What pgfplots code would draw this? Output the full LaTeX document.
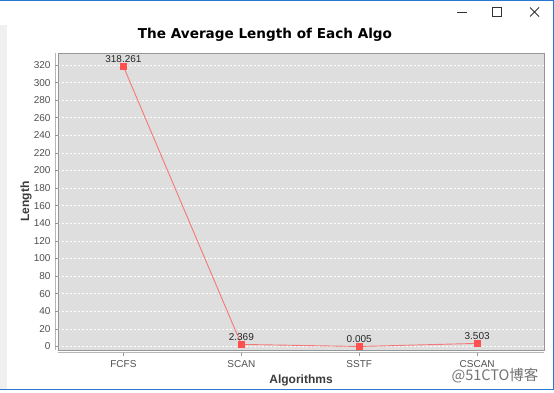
\documentclass[border=0pt]{standalone}
\usepackage{pgfplots}
\pgfplotsset{compat=1.18}
\usepackage{fontspec}
\setmainfont{Liberation Sans}
\newfontfamily\titlefont{DejaVu Sans}
\newfontfamily\cjk{Noto Sans CJK SC}
\definecolor{plotbg}{RGB}{222,222,222}
\definecolor{framegray}{RGB}{150,150,150}
\definecolor{tickgray}{RGB}{80,80,80}
\definecolor{labelgray}{RGB}{60,60,60}
\definecolor{linecol}{RGB}{245,120,120}
\definecolor{markcol}{RGB}{255,80,80}
\definecolor{winblue}{RGB}{40,120,210}
\definecolor{leftgray}{RGB}{240,240,240}
\begin{document}
\begin{tikzpicture}[x=1pt,y=1pt]
\path[use as bounding box] (0,0) rectangle (554,392);
\fill[white] (0,0) rectangle (554,392);
\fill[leftgray] (0,3) rectangle (7,367);
\draw[winblue, line width=1pt] (0,391.5) -- (553.5,391.5) -- (553.5,2.5) -- (0,2.5);
% window buttons
\draw[black!80, line width=0.8pt] (457,380) -- (467,380);
\draw[black!80, line width=0.8pt] (492.5,375.5) rectangle (501.5,384.5);
\draw[black!80, line width=0.8pt] (530,375.5) -- (539,384.5) (530,384.5) -- (539,375.5);
% extra axis lines (JFreeChart offset axes)
\draw[framegray!70, line width=0.6pt] (55,42) -- (55,339);
\draw[framegray!70, line width=0.6pt] (58,39.5) -- (544,39.5);
\begin{axis}[
  at={(58pt,42pt)}, anchor=south west,
  scale only axis, width=486pt, height=297pt,
  xmin=-0.555, xmax=3.567, ymin=-4, ymax=333.6,
  xtick={0,1,2,3}, xticklabels={FCFS,SCAN,SSTF,CSCAN},
  ytick={0,20,...,320},
  /pgf/number format/assume math mode=true,
  axis background/.style={fill=plotbg},
  axis line style={draw=framegray, line width=0.8pt},
  ymajorgrids,
  major grid style={white, dash pattern=on 2pt off 2pt, line width=0.6pt},
  tick pos=left, tick align=outside, major tick length=3pt,
  tick style={framegray, line width=0.5pt},
  x tick style={yshift=-2.5pt},
  ticklabel style={font=\fontsize{10}{12}\selectfont, text=tickgray},
  xticklabel style={yshift=-3.5pt},
  yticklabel style={xshift=-1pt},
  xlabel={\bfseries Algorithms},
  ylabel={\bfseries Length},
  xlabel style={at={(axis description cs:0.5,-0.103)}, anchor=center, font=\fontsize{12}{14}\selectfont, text=labelgray},
  ylabel style={at={(axis description cs:-0.066,0.5)}, anchor=center, font=\fontsize{12}{14}\selectfont, text=labelgray},
  clip=false,
]
\addplot[color=linecol, line width=0.9pt, mark=square*, mark size=3pt,
  mark options={fill=markcol, draw=markcol},
  nodes near coords, point meta=explicit symbolic,
  nodes near coords style={font=\fontsize{10}{12}\selectfont, text=black!85, anchor=south, yshift=0pt}]
  table[meta=label] {
x y label
0 318.261 318.261
1 2.369 2.369
2 0.005 0.005
3 3.503 3.503
};
\end{axis}
\node[font=\titlefont\bfseries\fontsize{13.6}{16}\selectfont, anchor=center] at (265,357) {The Average Length of Each Algo};
\node[font=\cjk\fontsize{14.5}{15}\selectfont, text=black!55, anchor=center, inner sep=0pt] at (495,16) {@51CTO博客};
\end{tikzpicture}
\end{document}
